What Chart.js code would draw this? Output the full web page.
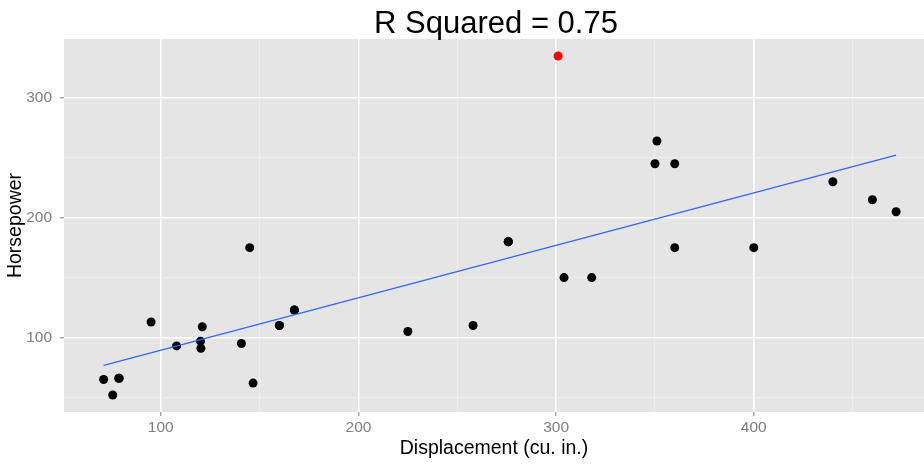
<!DOCTYPE html>
<html>
<head>
<meta charset="utf-8">
<script src="https://cdn.jsdelivr.net/npm/chart.js@4"></script>
<style>
  body { margin: 0; background: #fff; }
  #wrap { width: 924px; height: 464px; overflow: hidden; }
</style>
</head>
<body>
<div id="wrap"><canvas id="hpChart" width="924" height="464"></canvas></div>
<script>
// mtcars: displacement vs horsepower
let disp = [160, 160, 108, 258, 360, 225, 360, 146.7, 140.8, 167.6, 167.6, 275.8, 275.8, 275.8,
            472, 460, 440, 78.7, 75.7, 71.1, 120.1, 318, 304, 350, 400, 79, 120.3, 95.1, 351, 145, 121];
let hp   = [110, 110, 93, 110, 175, 105, 245, 62, 95, 123, 123, 180, 180, 180,
            205, 215, 230, 66, 52, 65, 97, 150, 150, 245, 175, 66, 91, 113, 264, 175, 109];
// highlighted car (red)
let outlierDisp = [301];
let outlierHp = [335];
// fitted line ends
let fitDisp = [71.1, 472];
let fitHp = [76.8, 252.3];

let xTicks = [100, 200, 300, 400];
let yTicks = [100, 200, 300];

let ctx = document.getElementById("hpChart").getContext("2d");
let fontFam = "'Liberation Sans', Arial, sans-serif";

const panelBg = {
    id: "panelBg",
    beforeDraw(chart) {
        let a = chart.chartArea;
        let c = chart.ctx;
        c.save();
        c.fillStyle = "#E5E5E5";
        c.fillRect(a.left, a.top, a.right - a.left, a.bottom - a.top);
        c.restore();
    }
};

// panel in the original runs past the right edge, so the title sits a bit right of centre
const bigTitle = {
    id: "bigTitle",
    afterDraw(chart) {
        let a = chart.chartArea;
        let c = chart.ctx;
        c.save();
        c.fillStyle = "#000";
        c.font = "31px " + fontFam;
        c.textAlign = "center";
        c.textBaseline = "alphabetic";
        c.fillText("R Squared = 0.75", (a.left + a.right) / 2 + 2, 33);
        c.restore();
    }
};

function isMajor(c) {
    return c.tick && c.tick.value % 100 === 0;
}

window.myChart = new Chart(ctx, {
    type: "scatter",
    data: {
        datasets: [
            {
                type: "line",
                data: fitDisp.map((x, i) => ({ x: x, y: fitHp[i] })),
                borderColor: "#3366FF",
                borderWidth: 1.2,
                pointRadius: 0,
                fill: false
            },
            {
                data: disp.map((x, i) => ({ x: x, y: hp[i] })),
                backgroundColor: "#000",
                borderColor: "#000",
                pointRadius: 4.5,
                borderWidth: 0
            },
            {
                data: outlierDisp.map((x, i) => ({ x: x, y: outlierHp[i] })),
                backgroundColor: "#FF0000",
                borderColor: "#FF0000",
                pointRadius: 4.5,
                borderWidth: 0
            }
        ]
    },
    options: {
        responsive: false,
        animation: false,
        layout: { autoPadding: false, padding: { top: 39, right: 0, left: 0, bottom: 0 } },
        plugins: {
            legend: { display: false },
            tooltip: { enabled: false },
            title: { display: false }
        },
        scales: {
            x: {
                type: "linear",
                min: 51.05,
                max: 486.1,
                afterFit: s => { s.height = 52; s.paddingLeft = 0; s.paddingRight = 0; },
                border: { display: false },
                grid: {
                    color: c => isMajor(c) ? "#FFFFFF" : "#F2F2F2",
                    lineWidth: c => isMajor(c) ? 1.6 : 0.7,
                    tickColor: c => isMajor(c) ? "#7F7F7F" : "rgba(0,0,0,0)",
                    tickLength: 4,
                    tickWidth: 1
                },
                ticks: {
                    stepSize: 50,
                    includeBounds: false,
                    autoSkip: false,
                    maxRotation: 0,
                    padding: 2,
                    color: "#7F7F7F",
                    font: { family: fontFam, size: 15.5 },
                    callback: v => xTicks.includes(v) ? String(v) : ""
                },
                title: {
                    display: true,
                    text: "Displacement (cu. in.)",
                    color: "#000",
                    font: { family: fontFam, size: 19.5 },
                    padding: { top: 0, bottom: 4 }
                }
            },
            y: {
                type: "linear",
                min: 37.85,
                max: 349.15,
                afterFit: s => { s.width = 64; s.paddingTop = 0; s.paddingBottom = 0; },
                border: { display: false },
                grid: {
                    color: c => isMajor(c) ? "#FFFFFF" : "#F2F2F2",
                    lineWidth: c => isMajor(c) ? 1.6 : 0.7,
                    tickColor: c => isMajor(c) ? "#7F7F7F" : "rgba(0,0,0,0)",
                    tickLength: 4,
                    tickWidth: 1
                },
                ticks: {
                    stepSize: 50,
                    includeBounds: false,
                    autoSkip: false,
                    padding: 8,
                    color: "#7F7F7F",
                    font: { family: fontFam, size: 15.5 },
                    callback: v => yTicks.includes(v) ? String(v) : ""
                },
                title: {
                    display: true,
                    text: "Horsepower",
                    color: "#000",
                    font: { family: fontFam, size: 19.5 },
                    padding: { top: 4, bottom: 0 }
                }
            }
        }
    },
    plugins: [panelBg, bigTitle]
});
</script>
</body>
</html>
